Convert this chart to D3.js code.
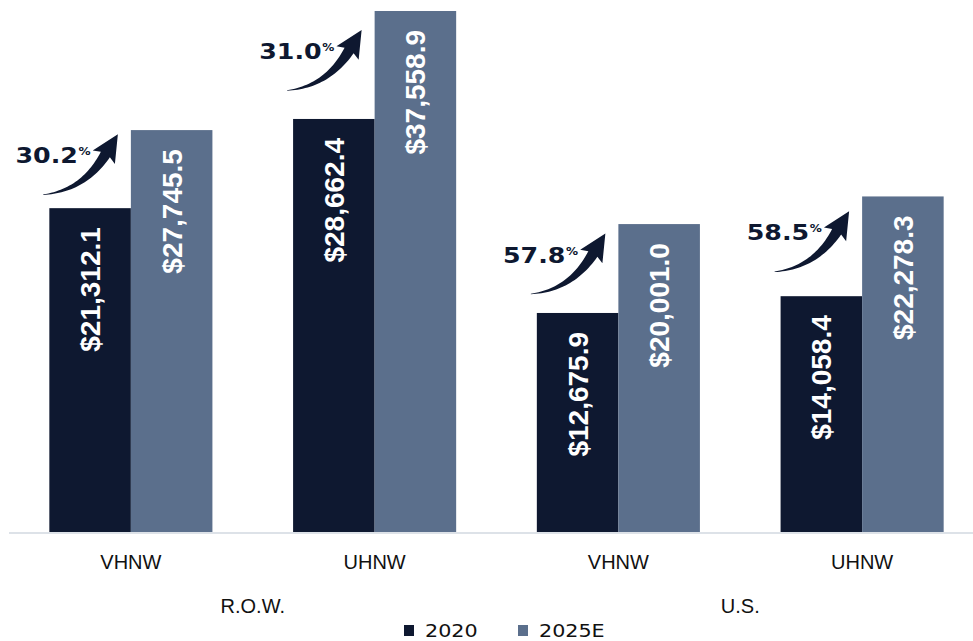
<!DOCTYPE html>
<html>
<head>
<meta charset="utf-8">
<script src="https://cdn.jsdelivr.net/npm/d3@7"></script>
<style>
  html, body { margin: 0; padding: 0; background: #fff; }
  svg { display: block; }
</style>
</head>
<body>
<svg id="chart" width="973" height="641"></svg>
<script>
// ---- data ----
const categories = ["VHNW", "UHNW", "VHNW", "UHNW"];
const regions = ["R.O.W.", "R.O.W.", "U.S.", "U.S."];
const regionNames = ["R.O.W.", "U.S."];
const seriesNames = ["2020", "2025E"];
const values2020 = [21312.1, 28662.4, 12675.9, 14058.4];
const values2025 = [27745.5, 37558.9, 20001.0, 22278.3];
const growthLabels = ["30.2", "31.0", "57.8", "58.5"];

// ---- layout ----
const W = 973, H = 641;
const baseY = 532;
const colors = { "2020": "#0e1830", "2025E": "#5b6f8c" };
const svg = d3.select("#chart");

const keys = categories.map((c, i) => i);
const x0 = d3.scaleBand().domain(keys).range([9, 984]).paddingInner(0.331).paddingOuter(0.1655);
const x1 = d3.scaleBand().domain(seriesNames).range([0, x0.bandwidth()]).padding(0);
const y = d3.scaleLinear().domain([-5372, 38465]).range([baseY, 0]);

const rows = keys.map(i => ({ i, vals: [values2020[i], values2025[i]] }));

// bars
const g = svg.append("g");
rows.forEach(r => {
  seriesNames.forEach((s, k) => {
    const v = r.vals[k];
    const bx = x0(r.i) + x1(s);
    g.append("rect")
      .attr("x", bx).attr("y", y(v))
      .attr("width", x1.bandwidth()).attr("height", baseY - y(v))
      .attr("fill", colors[s]);
    g.append("text")
      .attr("transform", `translate(${bx + x1.bandwidth() / 2},${y(v) + 19}) rotate(-90)`)
      .attr("text-anchor", "end")
      .attr("dy", "0.36em")
      .attr("fill", "#fff")
      .attr("font-family", "Liberation Sans, Arial, sans-serif")
      .attr("font-weight", "bold")
      .attr("font-size", 28)
      .text("$" + d3.format(",.1f")(v));
  });
});

// axis line
svg.append("line")
  .attr("x1", x0.range()[0]).attr("x2", x0.range()[1])
  .attr("y1", baseY + 1).attr("y2", baseY + 1)
  .attr("stroke", "#dde2e8").attr("stroke-width", 2);

// category labels
keys.forEach(i => {
  svg.append("text")
    .attr("x", x0(i) + x0.bandwidth() / 2).attr("y", 569)
    .attr("text-anchor", "middle")
    .attr("font-family", "Liberation Sans, Arial, sans-serif")
    .attr("font-size", 20).attr("fill", "#111")
    .text(categories[i]);
});
// region labels
regionNames.forEach(rn => {
  const idx = keys.filter(i => regions[i] === rn);
  const cx = d3.mean(idx, i => x0(i) + x0.bandwidth() / 2);
  svg.append("text")
    .attr("x", cx).attr("y", 613)
    .attr("text-anchor", "middle")
    .attr("font-family", "Liberation Sans, Arial, sans-serif")
    .attr("font-size", 20).attr("fill", "#111")
    .text(rn);
});

// growth arrows
function arrowPath() {
  const P0 = [0, 0], C = [40, -4], P1 = [62, -40];
  const left = [], right = [];
  const N = 30;
  for (let j = 0; j <= N; j++) {
    const t = j / N;
    const px = (1 - t) * (1 - t) * P0[0] + 2 * (1 - t) * t * C[0] + t * t * P1[0];
    const py = (1 - t) * (1 - t) * P0[1] + 2 * (1 - t) * t * C[1] + t * t * P1[1];
    let tx = 2 * (1 - t) * (C[0] - P0[0]) + 2 * t * (P1[0] - C[0]);
    let ty = 2 * (1 - t) * (C[1] - P0[1]) + 2 * t * (P1[1] - C[1]);
    const len = Math.hypot(tx, ty); tx /= len; ty /= len;
    const nx = -ty, ny = tx;
    const w = (0.6 + 10 * Math.pow(t, 1.1)) / 2;
    left.push([px + nx * w, py + ny * w]);
    right.push([px - nx * w, py - ny * w]);
  }
  let dx = P1[0] - C[0], dy = P1[1] - C[1];
  const l = Math.hypot(dx, dy); dx /= l; dy /= l;
  const nx = -dy, ny = dx;
  const tip = [P1[0] + dx * 24, P1[1] + dy * 24];
  const wa = [P1[0] + nx * 13 - dx * 3, P1[1] + ny * 13 - dy * 3];
  const wb = [P1[0] - nx * 13 - dx * 3, P1[1] - ny * 13 - dy * 3];
  const poly = left.concat([wa, tip, wb]).concat(right.slice().reverse());
  return { d: "M" + poly.map(p => p.map(v => v.toFixed(2)).join(",")).join("L") + "Z", tip };
}
const arrow = arrowPath();

rows.forEach((r, i) => {
  const barLeft = x0(r.i) + x1("2025E");
  const mid = (y(r.vals[0]) + y(r.vals[1])) / 2;
  const tipX = barLeft - 13, tipY = mid - 35;
  svg.append("path")
    .attr("d", arrow.d)
    .attr("transform", `translate(${tipX - arrow.tip[0]},${tipY - arrow.tip[1]})`)
    .attr("fill", "#0e1830");
  const lg = svg.append("g")
    .attr("transform", `translate(${tipX - 40},${tipY + 29}) scale(1.15,1)`);
  lg.append("text")
    .attr("text-anchor", "end")
    .attr("font-family", "DejaVu Sans, sans-serif")
    .attr("font-weight", "bold").attr("font-size", 22)
    .attr("fill", "#0e1830")
    .text(growthLabels[i]);
  lg.append("text")
    .attr("x", 0.5).attr("y", -8)
    .attr("font-family", "DejaVu Sans, sans-serif")
    .attr("font-weight", "bold").attr("font-size", 10.5)
    .attr("fill", "#0e1830")
    .text("%");
});

// legend
const legend = svg.append("g");
const legendX = [404, 518];
seriesNames.forEach((s, k) => {
  legend.append("rect")
    .attr("x", legendX[k]).attr("y", 625).attr("width", 10).attr("height", 11)
    .attr("fill", colors[s]);
  legend.append("g")
    .attr("transform", `translate(${legendX[k] + 21},637) scale(1.15,1)`)
    .append("text")
    .attr("font-family", "DejaVu Sans, sans-serif")
    .attr("font-size", 18).attr("fill", "#111")
    .text(s);
});
</script>
</body>
</html>
